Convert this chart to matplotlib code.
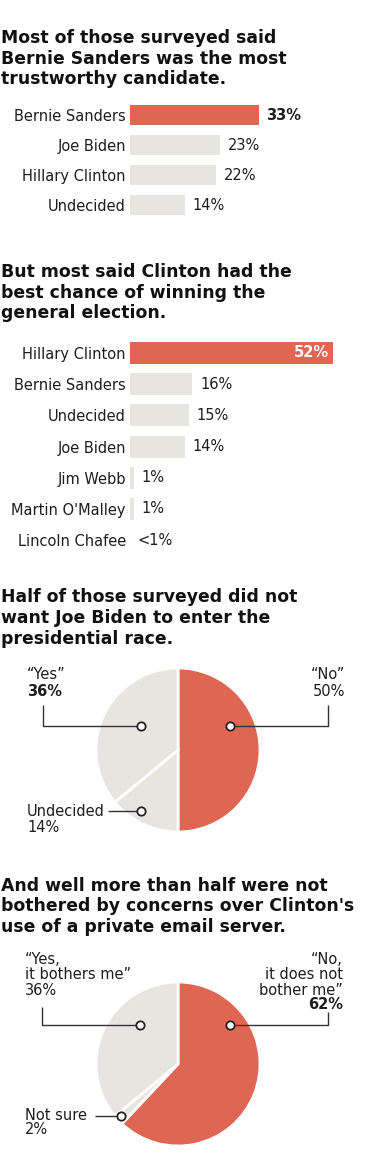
import matplotlib
matplotlib.use("Agg")
import matplotlib.pyplot as plt

W, H = 371, 1169
RED = '#DE6652'
GRAY = '#E6E5E0'
INK = '#1e1e1e'

plt.rcParams['font.family'] = 'DejaVu Sans'

# --- data ---
trust_names = ['Bernie Sanders', 'Joe Biden', 'Hillary Clinton', 'Undecided']
trust_vals = [33, 23, 22, 14]
trust_labels = ['33%', '23%', '22%', '14%']

win_names = ['Hillary Clinton', 'Bernie Sanders', 'Undecided', 'Joe Biden',
             'Jim Webb', "Martin O'Malley", 'Lincoln Chafee']
win_vals = [52, 16, 15, 14, 1, 1, 0]
win_labels = ['52%', '16%', '15%', '14%', '1%', '1%', '<1%']

biden_names = ['No', 'Undecided', 'Yes']
biden_vals = [50, 14, 36]

email_names = ['No', 'Not sure', 'Yes']
email_vals = [62, 2, 36]

titles = [
    ['Most of those surveyed said', 'Bernie Sanders was the most', 'trustworthy candidate.'],
    ['But most said Clinton had the', 'best chance of winning the', 'general election.'],
    ['Half of those surveyed did not', 'want Joe Biden to enter the', 'presidential race.'],
    ['And well more than half were not', "bothered by concerns over Clinton's", 'use of a private email server.'],
]
title_baselines = [[43, 64, 84], [277, 298, 318], [602, 623, 644], [891, 911, 932]]

fig = plt.figure(figsize=(W / 100, H / 100), dpi=100)
fig.patch.set_facecolor('white')


def axes_px(left, top, width, height):
    return fig.add_axes([left / W, 1 - (top + height) / H, width / W, height / H])


for lines, ys in zip(titles, title_baselines):
    for txt, y in zip(lines, ys):
        fig.text(1 / W, 1 - y / H, txt, fontsize=12.4, fontweight='bold',
                 color='#111111', va='baseline', ha='left')

PX_PER_PCT = 3.9


def bar_block(top, row_h, names, vals, labels, bar_h, inside_first):
    n = len(names)
    ax = axes_px(130, top, W - 130, row_h * n)
    colors = [RED] + [GRAY] * (n - 1)
    ax.barh(range(n), vals, height=bar_h, color=colors)
    ax.set_xlim(0, (W - 130) / PX_PER_PCT)
    ax.set_ylim(n - 0.5, -0.5)
    ax.set_yticks(range(n), names)
    ax.tick_params(axis='y', length=0, pad=3, labelsize=10.5, labelcolor=INK)
    ax.set_xticks([])
    for s in ax.spines.values():
        s.set_visible(False)
    for i, (v, lab) in enumerate(zip(vals, labels)):
        if i == 0 and inside_first:
            ax.text(v - 1, i, lab, ha='right', va='center', fontsize=10.5,
                    fontweight='bold', color='white')
        else:
            ax.text(v + 2, i, lab, ha='left', va='center', fontsize=10.5,
                    fontweight='bold' if i == 0 else 'normal', color=INK)
    return ax


bar_block(100, 30, trust_names, trust_vals, trust_labels, 0.68, False)
bar_block(337.4, 31.2, win_names, win_vals, win_labels, 0.7, True)


def pie_block(cx, cy, half_h, vals, notes):
    ax = axes_px(0, cy - half_h, W, 2 * half_h)
    ax.pie(vals, colors=[RED, GRAY, GRAY], startangle=90, counterclock=False,
           radius=82, wedgeprops=dict(edgecolor='white', linewidth=2))
    ax.set_xlim(-cx, W - cx)
    ax.set_ylim(-half_h, half_h)
    ax.set_aspect('equal')
    ax.axis('off')
    for n in notes:
        xs, ys = zip(*n['line'])
        ax.plot(xs, ys, color='#333333', lw=1, solid_capstyle='butt')
        ax.plot(xs[-1:], ys[-1:], 'o', ms=6, mfc='white', mec='#222222', mew=1.3)
        for txt, y, bold in n['text']:
            ax.text(n['tx'], y, txt, ha=n['ha'], va='baseline', fontsize=10.5,
                    fontweight='bold' if bold else 'normal', color=INK)
    return ax


pie_block(178, 750, 100, biden_vals, [
    dict(tx=-151, ha='left', line=[(-135, 45), (-135, 24), (-37, 24)],
         text=[('\u201cYes\u201d', 71, False), ('36%', 54, True)]),
    dict(tx=167, ha='right', line=[(150, 45), (150, 24), (52, 24)],
         text=[('\u201cNo\u201d', 71, False), ('50%', 54, False)]),
    dict(tx=-151, ha='left', line=[(-70, -61), (-37, -61)],
         text=[('Undecided', -66, False), ('14%', -82, False)]),
])

pie_block(178, 1064, 105, email_vals, [
    dict(tx=-153, ha='left', line=[(-136, 57), (-136, 39), (-38, 39)],
         text=[('\u201cYes,', 100, False), ('it bothers me\u201d', 85, False),
               ('36%', 69, False)]),
    dict(tx=165, ha='right', line=[(150, 52), (150, 39), (52, 39)],
         text=[('\u201cNo,', 100, False), ('it does not', 85, False),
               ('bother me\u201d', 69, False), ('62%', 55, True)]),
    dict(tx=-153, ha='left', line=[(-83, -52), (-57, -52)],
         text=[('Not sure', -56, False), ('2%', -70, False)]),
])

fig.savefig('out.png', dpi=100, facecolor='white')
